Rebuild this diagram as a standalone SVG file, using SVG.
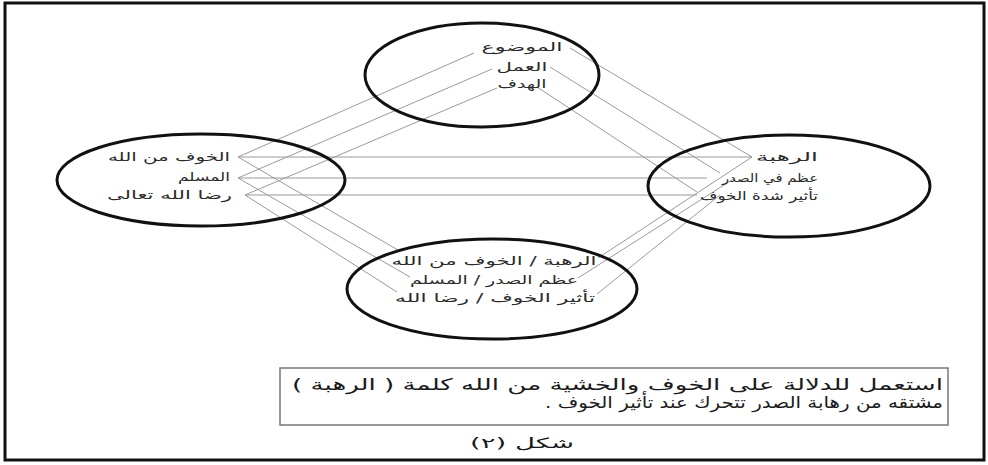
<svg xmlns="http://www.w3.org/2000/svg" width="988" height="465" viewBox="0 0 988 465">
<style>
.frame{fill:#fff;stroke:#111;stroke-width:3}
.ell{fill:none;stroke:#111;stroke-width:3}
.lbl{font-family:"DejaVu Sans",sans-serif;font-size:12px;fill:#2a2a2a;direction:rtl}
.cap{font-family:"DejaVu Sans",sans-serif;font-size:16px;fill:#1a1a1a;direction:rtl}
.ln{stroke:#9a9a9a;stroke-width:1;fill:none}
.box{fill:#fff;stroke:#777;stroke-width:1.5}
</style>
<rect class="frame" x="5" y="3" width="979" height="457"/>
<g id="connectors">
<line class="ln" x1="238" y1="157" x2="474" y2="53"/>
<line class="ln" x1="238" y1="178" x2="492" y2="69"/>
<line class="ln" x1="245" y1="195" x2="497" y2="88"/>
<line class="ln" x1="570" y1="48" x2="752" y2="157"/>
<line class="ln" x1="550" y1="67" x2="720" y2="173"/>
<line class="ln" x1="537" y1="87" x2="697" y2="192"/>
<line class="ln" x1="238" y1="157" x2="752" y2="157"/>
<line class="ln" x1="238" y1="178" x2="707" y2="178"/>
<line class="ln" x1="245" y1="195" x2="697" y2="195"/>
<line class="ln" x1="238" y1="157" x2="398" y2="250"/>
<line class="ln" x1="238" y1="178" x2="410" y2="277"/>
<line class="ln" x1="245" y1="195" x2="397" y2="292"/>
<line class="ln" x1="752" y1="157" x2="598" y2="258"/>
<line class="ln" x1="735" y1="178" x2="578" y2="278"/>
<line class="ln" x1="720" y1="195" x2="597" y2="294"/>
</g>
<g id="node-top">
<ellipse class="ell" cx="482" cy="75" rx="117" ry="52"/>
<text class="lbl" x="522" y="51" text-anchor="middle" textLength="81" lengthAdjust="spacingAndGlyphs">الموضوع</text>
<text class="lbl" x="522" y="71" text-anchor="middle" textLength="51" lengthAdjust="spacingAndGlyphs">العمل</text>
<text class="lbl" x="522" y="88" text-anchor="middle" textLength="49" lengthAdjust="spacingAndGlyphs">الهدف</text>
</g>
<g id="node-left">
<ellipse class="ell" cx="201" cy="180" rx="144" ry="46"/>
<text class="lbl" x="230" y="161" text-anchor="start" textLength="122" lengthAdjust="spacingAndGlyphs">الخوف من الله</text>
<text class="lbl" x="230" y="181" text-anchor="start" textLength="52" lengthAdjust="spacingAndGlyphs">المسلم</text>
<text class="lbl" x="232" y="199" text-anchor="start" textLength="125" lengthAdjust="spacingAndGlyphs">رضا الله تعالى</text>
</g>
<g id="node-right">
<ellipse class="ell" cx="789" cy="186" rx="141" ry="51"/>
<text class="lbl" x="818" y="161" text-anchor="start" textLength="62" lengthAdjust="spacingAndGlyphs">الرهبة</text>
<text class="lbl" x="818" y="182" text-anchor="start" textLength="96" lengthAdjust="spacingAndGlyphs">عظم في الصدر</text>
<text class="lbl" x="818" y="200" text-anchor="start" textLength="118" lengthAdjust="spacingAndGlyphs">تأثير شدة الخوف</text>
</g>
<g id="node-bottom">
<ellipse class="ell" cx="492" cy="289" rx="145" ry="50"/>
<text class="lbl" x="494" y="265" text-anchor="middle" textLength="205" lengthAdjust="spacingAndGlyphs">الرهبة / الخوف من الله</text>
<text class="lbl" x="494" y="284" text-anchor="middle" textLength="168" lengthAdjust="spacingAndGlyphs">عظم الصدر / المسلم</text>
<text class="lbl" x="495" y="302" text-anchor="middle" textLength="200" lengthAdjust="spacingAndGlyphs">تأثير الخوف / رضا الله</text>
</g>
<g id="caption-box">
<rect class="box" x="280" y="368" width="668" height="57"/>
<text class="cap" x="943" y="390" text-anchor="start" textLength="651" lengthAdjust="spacingAndGlyphs">استعمل للدلالة على الخوف والخشية من الله كلمة ( الرهبة )</text>
<text class="cap" x="943" y="408" text-anchor="start" textLength="398" lengthAdjust="spacingAndGlyphs">مشتقه من رهابة الصدر تتحرك عند تأثير الخوف .</text>
</g>
<g id="figure-caption">
<text class="cap" x="522" y="448" text-anchor="middle" style="font-size:14px" textLength="104" lengthAdjust="spacingAndGlyphs">شكل (٢)</text>
</g>
</svg>
